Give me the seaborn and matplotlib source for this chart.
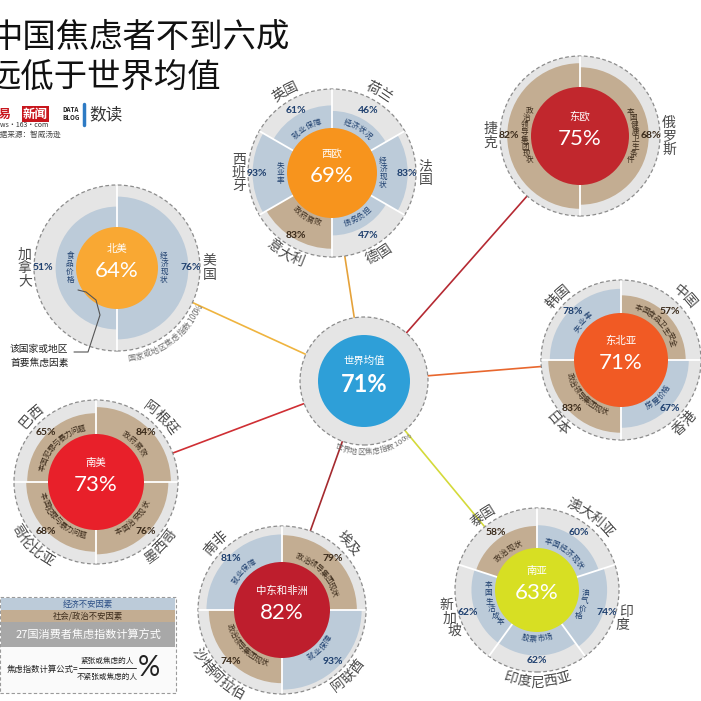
import numpy as np
import seaborn as sns
import matplotlib.pyplot as plt
from matplotlib.patches import Wedge, Circle, Rectangle

sns.set_theme(style="white")
plt.rcParams['font.family'] = ['Noto Sans CJK SC', 'DejaVu Sans']

# ---- data ----
regions = ["西欧", "东欧", "北美", "东北亚", "南美", "中东和非洲", "南亚"]
region_index = [69, 75, 64, 71, 73, 82, 63]
world_name = "世界均值"
world_index = 71

# countries clockwise from 12 o'clock; "e" = 经济不安因素, "s" = 社会/政治不安因素
we_countries = ["荷兰", "法国", "德国", "意大利", "西班牙", "英国"]
we_values = [46, 83, 47, 83, 93, 61]
we_factors = ["经济状况", "经济现状", "债务负担", "政府腐败", "失业率", "就业保障"]
we_types = ["e", "e", "e", "s", "e", "e"]

ee_countries = ["俄罗斯", "捷克"]
ee_values = [68, 82]
ee_factors = ["本国健康卫生条件", "政治领导集团现状"]
ee_types = ["s", "s"]

na_countries = ["美国", "加拿大"]
na_values = [76, 51]
na_factors = ["经济现状", "食品价格"]
na_types = ["e", "e"]

nea_countries = ["中国", "香港", "日本", "韩国"]
nea_values = [57, 67, 83, 78]
nea_factors = ["本国食品卫生安全", "房屋价格", "政治领导集团现状", "失业率"]
nea_types = ["s", "e", "s", "e"]

sa_countries = ["阿根廷", "墨西哥", "哥伦比亚", "巴西"]
sa_values = [84, 76, 68, 65]
sa_factors = ["政府腐败", "本国治安现状", "本国犯罪与暴力问题", "本国犯罪与暴力问题"]
sa_types = ["s", "s", "s", "s"]

mea_countries = ["埃及", "阿联酋", "沙特阿拉伯", "南非"]
mea_values = [79, 93, 74, 81]
mea_factors = ["政治领导集团现状", "就业保障", "政治领导集团现状", "就业保障"]
mea_types = ["s", "e", "s", "e"]

sas_countries = ["澳大利亚", "印度", "印度尼西亚", "新加坡", "泰国"]
sas_values = [60, 74, 62, 62, 58]
sas_factors = ["本国经济现状", "油气价格", "股票市场", "本国生活成本", "政治现状"]
sas_types = ["e", "e", "e", "e", "s"]

# ---- layout / style ----
H = 701
centers = [(332, 173), (580, 136), (117, 268), (621, 360), (96, 482), (282, 610), (537, 590)]
outer_r = [84, 80, 83, 80, 82, 84, 82]
inner_r = [45, 49, 41, 47, 48, 48, 42]
world_c, world_R, world_r0 = (364, 381), 64, 46
region_colors = ["#F7941D", "#C1272D", "#F9A833", "#F15A24", "#E8202A", "#BE1E2D", "#D7DF23"]
line_colors = ["#E5A23A", "#B52A33", "#EFB43F", "#E8672E", "#CF2F34", "#A52A2F", "#D4DA3A"]
world_color = "#2E9FD8"
ring_grey = "#E5E5E5"
wedge_fill = {"e": "#BCCBD9", "s": "#C3AD92"}
text_col = {"e": "#1E3F6E", "s": "#3A2A1A"}
num_font = ['Lato', 'DejaVu Sans']

groups = [
    (we_countries, we_values, we_factors, we_types),
    (ee_countries, ee_values, ee_factors, ee_types),
    (na_countries, na_values, na_factors, na_types),
    (nea_countries, nea_values, nea_factors, nea_types),
    (sa_countries, sa_values, sa_factors, sa_types),
    (mea_countries, mea_values, mea_factors, mea_types),
    (sas_countries, sas_values, sas_factors, sas_types),
]

fig = plt.figure(figsize=(7.01, 7.01), dpi=100)
ax = fig.add_axes([0, 0, 1, 1])
ax.set_xlim(0, H)
ax.set_ylim(0, H)
ax.axis('off')


def P(x, y):
    return x, H - y


def polar(cx, cy, r, th):
    a = np.deg2rad(th)
    return cx + r * np.sin(a), cy + r * np.cos(a)


def mode_of(th):
    th = th % 360
    if 60 <= th <= 120:
        return 'right'
    if 240 <= th <= 300:
        return 'left'
    if 90 < th < 270:
        return 'bottom'
    return 'top'


def arc_text(cx, cy, r, th_mid, text, step, mode=None, **kw):
    mode = mode or mode_of(th_mid)
    w = np.array([step if ord(ch) > 127 else step * 0.6 for ch in text])
    pos = np.cumsum(w) - w / 2 - w.sum() / 2
    offs = np.rad2deg(pos / r)
    if mode in ('top', 'right'):
        ths = th_mid + offs
    else:
        ths = th_mid - offs
    for ch, th in zip(text, ths):
        if mode == 'top':
            rot = -th
        elif mode == 'bottom':
            rot = 180 - th
        else:
            rot = 0
        x, y = polar(cx, cy, r, th)
        ax.text(x, y, ch, rotation=rot, rotation_mode='anchor', ha='center',
                va='center', zorder=6, **kw)


# connecting lines from the world circle
wx, wy = P(*world_c)
for c, lc in zip(centers, line_colors):
    x, y = P(*c)
    ax.plot([wx, x], [wy, y], color=lc, lw=1.2, zorder=1)

# regional circles
for (c, R, r0, col, name, idx, grp) in zip(centers, outer_r, inner_r, region_colors,
                                            regions, region_index, groups):
    countries, values, factors, types = grp
    cx, cy = P(*c)
    ax.add_patch(Circle((cx, cy), R, facecolor=ring_grey, edgecolor='#8C8C8C',
                        lw=0.9, ls=(0, (3, 2)), zorder=2))
    n = len(countries)
    span = 360 / n
    for i, (cn, v, f, t) in enumerate(zip(countries, values, factors, types)):
        t1, t2 = i * span, (i + 1) * span
        ro = r0 + (R - r0 - 2) * v / 100
        ax.add_patch(Wedge((cx, cy), ro, 90 - t2, 90 - t1, width=ro - r0 + 2,
                           facecolor=wedge_fill[t], edgecolor='none', zorder=3))
        x1, y1 = polar(cx, cy, r0, t1)
        x2, y2 = polar(cx, cy, R - 1, t1)
        ax.plot([x1, x2], [y1, y2], color='white', lw=1.3, zorder=3.5)
        tm = (t1 + t2) / 2
        side = mode_of(tm) in ('left', 'right')
        pr = 0.89 * R if side else 0.86 * R
        px, py = polar(cx, cy, pr, tm)
        ax.text(px, py, f"{v}%", ha='center', va='center', fontsize=7.5,
                fontweight='bold', color=text_col[t], family=num_font, zorder=6)
        fstep = 7.2 if len(f) > 6 else 8
        arc_text(cx, cy, r0 + 7, tm, f, fstep, fontsize=5.5, color=text_col[t])
        arc_text(cx, cy, R + 10, tm, cn, 13.5, fontsize=10, color='#4A4A4A')
    ax.add_patch(Circle((cx, cy), r0, facecolor=col, edgecolor='none', zorder=4))
    ax.text(cx, cy + 19, name, ha='center', va='center', fontsize=7.5,
            color='white', zorder=6)
    ax.text(cx, cy - 3, f"{idx}%", ha='center', va='center', fontsize=16,
            color='white', family=num_font, zorder=6)

# world circle
ax.add_patch(Circle((wx, wy), world_R, facecolor=ring_grey, edgecolor='#8C8C8C',
                    lw=0.9, ls=(0, (3, 2)), zorder=2))
ax.add_patch(Circle((wx, wy), world_r0, facecolor=world_color, edgecolor='none', zorder=4))
ax.text(wx, wy + 20, world_name, ha='center', va='center', fontsize=7.5,
        color='white', zorder=6)
ax.text(wx, wy - 4, f"{world_index}%", ha='center', va='center', fontsize=17,
        fontweight='bold', color='white', family=num_font, zorder=6)
arc_text(wx, wy, world_R + 7, 172, "世界地区焦虑指数100%", 7.6, mode='bottom',
         fontsize=5.5, color='#6E6E6E')

# note on 北美 circle
nx, ny = P(*centers[2])
arc_text(nx, ny, outer_r[2] + 8, 144, "国家或地区焦虑指数100%", 8.2, mode='bottom',
         fontsize=5.8, color='#6E6E6E')
ax.text(*P(10, 356), "该国家或地区\n首要焦虑因素", ha='left', va='center',
        fontsize=7, color='#222222', linespacing=1.4, zorder=6)
lx = [74, 88, 100, 96, 86, 78]
ly = [352, 352, 315, 300, 292, 290]
ax.plot(lx, [H - v for v in ly], color='#555555', lw=0.8, zorder=6)

# title and credits
ax.text(*P(-10, 38), "中国焦虑者不到六成", ha='left', va='center', fontsize=24, color='#111111')
ax.text(*P(-12, 77), "远低于世界均值", ha='left', va='center', fontsize=24, color='#111111')
ax.text(*P(-14, 114), "网易", ha='left', va='center', fontsize=9, color='#C8161D', fontweight='bold')
ax.text(*P(23, 114), "新闻", ha='left', va='center', fontsize=9, color='white', fontweight='bold',
        bbox=dict(boxstyle='square,pad=0.1', facecolor='#C8161D', edgecolor='none'))
ax.text(*P(-8, 125), "news·163·com", ha='left', va='center', fontsize=5, color='#333333')
ax.text(*P(62, 110), "DATA", ha='left', va='center', fontsize=4.5, color='#222222', fontweight='bold')
ax.text(*P(62, 118), "BLOG", ha='left', va='center', fontsize=4.5, color='#222222', fontweight='bold')
ax.plot([84, 84], [H - 104, H - 125], color='#2E7BC4', lw=2.5)
ax.text(*P(89, 115), "数读", ha='left', va='center', fontsize=12, color='#333333')
ax.text(*P(-7, 135), "数据来源：智威汤逊", ha='left', va='center', fontsize=5.5, color='#444444')

# legend box
ax.add_patch(Rectangle(P(0, 693), 176, 96, facecolor='#FAFAFA', edgecolor='#9A9A9A',
                       lw=0.8, ls=(0, (3, 2)), zorder=5))
ax.add_patch(Rectangle(P(1, 610), 174, 12, facecolor=wedge_fill["e"], edgecolor='none', zorder=5))
ax.add_patch(Rectangle(P(1, 622), 174, 12, facecolor=wedge_fill["s"], edgecolor='none', zorder=5))
ax.add_patch(Rectangle(P(1, 647), 174, 25, facecolor='#A8A8A8', edgecolor='none', zorder=5))
ax.text(*P(88, 604), "经济不安因素", ha='center', va='center', fontsize=6, color='#2C4F86', zorder=6)
ax.text(*P(88, 616), "社会/政治不安因素", ha='center', va='center', fontsize=6, color='#3A2A1A', zorder=6)
ax.text(*P(88, 635), "27国消费者焦虑指数计算方式", ha='center', va='center', fontsize=8,
        color='white', zorder=6)
ax.text(*P(7, 669), "焦虑指数计算公式=", ha='left', va='center', fontsize=6, color='#222222', zorder=6)
ax.text(*P(107, 661), "紧张或焦虑的人", ha='center', va='center', fontsize=5.5, color='#222222', zorder=6)
ax.plot([79, 136], [H - 668, H - 668], color='#333333', lw=0.7, zorder=6)
ax.text(*P(107, 677), "不紧张或焦虑的人", ha='center', va='center', fontsize=5.5, color='#222222', zorder=6)
ax.text(*P(149, 668), "%", ha='center', va='center', fontsize=20, color='#222222',
        family=num_font, zorder=6)

fig.savefig("out.png", dpi=100, facecolor='white')
